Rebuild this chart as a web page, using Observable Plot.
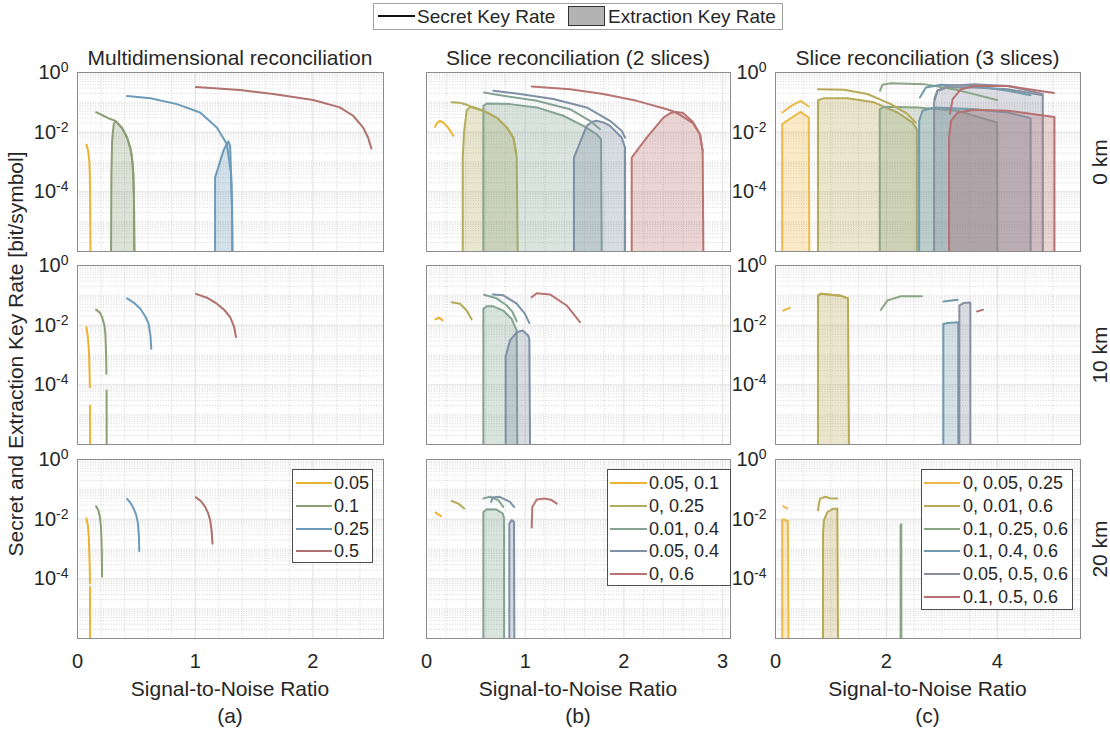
<!DOCTYPE html>
<html><head><meta charset="utf-8">
<script src="https://cdn.jsdelivr.net/npm/d3@7"></script>
<script src="https://cdn.jsdelivr.net/npm/@observablehq/plot@0.6"></script>
<style>
body{margin:0;background:#fff;font-family:"Liberation Sans",Arial,Helvetica,sans-serif;color:#262626}
#root{position:relative;width:1110px;height:731px;overflow:hidden;background:#fff}
.abs{position:absolute;white-space:nowrap;line-height:1}
</style></head><body><div id="root"></div><script>
// ---------------- DATA (points are [SNR, log10(rate)]; null = gap) ----------------
const seriesA = ["0.05", "0.1", "0.25", "0.5"];
const seriesB = ["0.05, 0.1", "0, 0.25", "0.01, 0.4", "0.05, 0.4", "0, 0.6"];
const seriesC = ["0, 0.05, 0.25", "0, 0.01, 0.6", "0.1, 0.25, 0.6", "0.1, 0.4, 0.6", "0.05, 0.5, 0.6", "0.1, 0.5, 0.6"];
const distances = ["0 km", "10 km", "20 km"];
const xTicksA = [0, 1, 2];
const xTicksB = [0, 1, 2, 3];
const xTicksC = [0, 2, 4];
const yTicks = [1, 1e-2, 1e-4];

// Multidimensional reconciliation
const skA0 = [
  [[0.076,-2.42],[0.09,-2.62],[0.1,-2.95],[0.104,-3.3],[0.107,-4.0],[0.11,-6]],
  [[0.158,-1.33],[0.22,-1.45],[0.28,-1.56],[0.322,-1.62],[0.379,-1.86],[0.421,-2.18],[0.45,-2.55],[0.463,-2.85],[0.474,-3.4],[0.48,-4.2],[0.483,-6]],
  [[0.421,-0.79],[0.619,-0.86],[0.845,-1.06],[1.042,-1.34],[1.184,-1.84],[1.269,-2.40],[1.305,-3.41],[1.313,-4.5],[1.316,-6]],
  [[1.006,-0.49],[1.381,-0.59],[1.664,-0.72],[2.003,-0.92],[2.229,-1.17],[2.342,-1.45],[2.426,-1.84],[2.469,-2.18],[2.497,-2.55]]
];
const ekA0 = [
  null,
  [[0.285,-6],[0.288,-3.41],[0.294,-2.29],[0.308,-1.73],[0.322,-1.62],[0.379,-1.86],[0.421,-2.18],[0.45,-2.55],[0.463,-2.85],[0.474,-3.4],[0.48,-4.2],[0.483,-6]],
  [[1.169,-6],[1.169,-3.52],[1.24,-2.62],[1.269,-2.38],[1.282,-2.31],[1.297,-2.46],[1.305,-3.41],[1.313,-4.5],[1.316,-6]],
  null
];
const skA10 = [
  [[0.076,-2.07],[0.088,-2.4],[0.097,-2.85],[0.102,-3.5],[0.105,-4.08],[0.105,null],[0.106,-4.69],[0.107,-6]],
  [[0.158,-1.48],[0.19,-1.58],[0.209,-1.73],[0.228,-2.0],[0.237,-2.29],[0.243,-3.0],[0.246,-3.63],[0.246,null],[0.247,-4.19],[0.248,-6]],
  [[0.421,-1.10],[0.48,-1.25],[0.534,-1.45],[0.575,-1.7],[0.604,-1.95],[0.62,-2.35],[0.627,-2.79]],
  [[1.006,-0.95],[1.1,-1.08],[1.184,-1.28],[1.25,-1.5],[1.297,-1.73],[1.33,-2.05],[1.347,-2.40]]
];
const ekA10 = [null, null, null, null];
const skA20 = [
  [[0.076,-1.98],[0.088,-2.2],[0.096,-2.59],[0.1,-3.1],[0.104,-3.6],[0.106,-4.16],[0.106,null],[0.106,-4.27],[0.107,-6]],
  [[0.158,-1.57],[0.177,-1.7],[0.19,-1.92],[0.198,-2.2],[0.203,-2.59],[0.207,-3.2],[0.209,-3.93]],
  [[0.421,-1.32],[0.45,-1.45],[0.477,-1.64],[0.5,-1.88],[0.514,-2.15],[0.522,-2.6],[0.525,-3.07]],
  [[1.006,-1.27],[1.05,-1.4],[1.085,-1.59],[1.11,-1.8],[1.127,-2.03],[1.14,-2.4],[1.147,-2.82]]
];
const ekA20 = [null, null, null, null];

// Slice reconciliation (2 slices)
const skB0 = [
  [[0.086,-1.82],[0.11,-1.68],[0.137,-1.62],[0.17,-1.68],[0.204,-1.79],[0.24,-1.95],[0.272,-2.12]],
  [[0.255,-1.0],[0.33,-1.01],[0.40,-1.07],[0.46,-1.15],[0.576,-1.28],[0.711,-1.51],[0.813,-1.84],[0.88,-2.18],[0.91,-2.7]],
  [[0.583,-0.67],[0.778,-0.78],[1.117,-0.95],[1.454,-1.23],[1.657,-1.62],[1.758,-1.90]],
  [[0.677,-0.61],[0.947,-0.72],[1.285,-0.89],[1.623,-1.17],[1.859,-1.62],[1.977,-1.95],[2.011,-2.18]],
  [[1.066,-0.47],[1.454,-0.56],[1.791,-0.72],[2.13,-0.95],[2.40,-1.2],[2.50,-1.3],[2.568,-1.42],[2.70,-1.70],[2.77,-2.07],[2.798,-2.62]]
];
const ekB0 = [
  null,
  [[0.367,-6],[0.367,-2.85],[0.38,-2.0],[0.407,-1.28],[0.44,-1.15],[0.576,-1.28],[0.711,-1.51],[0.813,-1.84],[0.88,-2.18],[0.914,-2.85],[0.924,-6]],
  [[0.576,-6],[0.576,-1.12],[0.61,-1.04],[0.846,-1.06],[1.117,-1.17],[1.386,-1.45],[1.589,-1.79],[1.724,-2.07],[1.768,-2.23],[1.775,-6]],
  [[1.494,-6],[1.494,-2.85],[1.623,-1.79],[1.68,-1.65],[1.724,-1.62],[1.80,-1.68],[1.859,-1.79],[1.977,-2.18],[2.011,-2.51],[2.011,-6]],
  [[2.079,-6],[2.079,-2.85],[2.231,-2.18],[2.40,-1.51],[2.47,-1.36],[2.53,-1.32],[2.6,-1.36],[2.70,-1.66],[2.77,-2.07],[2.798,-2.62],[2.805,-6]]
];
const skB10 = [
  [[0.089,-1.80],[0.13,-1.75],[0.164,-1.84]],
  [[0.255,-1.23],[0.339,-1.28],[0.407,-1.51],[0.458,-1.81]],
  [[0.583,-0.98],[0.71,-1.10],[0.813,-1.34],[0.87,-1.55],[0.914,-1.87]],
  [[0.671,-0.97],[0.778,-1.0],[0.914,-1.28],[0.998,-1.62],[1.042,-1.93]],
  [[1.066,-1.06],[1.117,-0.93],[1.251,-0.97],[1.42,-1.34],[1.555,-1.90]]
];
const ekB10 = [
  null, null,
  [[0.576,-6],[0.576,-1.45],[0.61,-1.37],[0.677,-1.37],[0.778,-1.51],[0.863,-1.79],[0.914,-2.18],[0.92,-6]],
  [[0.802,-6],[0.802,-3.05],[0.846,-2.51],[0.914,-2.24],[0.975,-2.18],[1.031,-2.35],[1.042,-2.5],[1.049,-6]],
  null
];
const skB20 = [
  [[0.093,-1.78],[0.147,-1.90]],
  [[0.255,-1.39],[0.322,-1.48],[0.383,-1.64]],
  [[0.576,-1.31],[0.644,-1.25],[0.728,-1.36],[0.778,-1.59]],
  [[0.655,-1.42],[0.671,-1.27],[0.74,-1.25],[0.846,-1.42],[0.887,-1.59]],
  [[1.066,-2.28],[1.072,-1.59],[1.117,-1.34],[1.20,-1.31],[1.268,-1.36],[1.32,-1.48]]
];
const ekB20 = [
  null, null,
  [[0.576,-6],[0.576,-1.76],[0.61,-1.67],[0.71,-1.68],[0.772,-1.81],[0.786,-1.98],[0.786,-6]],
  [[0.839,-6],[0.839,-2.15],[0.863,-2.03],[0.887,-2.09],[0.89,-6]],
  null
];

// Slice reconciliation (3 slices)
const skC0 = [
  [[0.121,-1.34],[0.30,-1.1],[0.452,-0.95],[0.60,-1.14]],
  [[0.766,-0.56],[1.235,-0.58],[1.658,-0.72],[2.08,-1.06],[2.38,-1.39],[2.53,-1.68]],
  [[1.886,-0.61],[1.929,-0.41],[2.08,-0.36],[2.68,-0.39],[3.286,-0.59],[3.996,-0.92]],
  [[2.604,-0.84],[2.712,-0.50],[2.98,-0.41],[3.586,-0.45],[4.19,-0.61],[4.60,-0.76]],
  [[2.863,-0.89],[2.92,-0.61],[3.105,-0.45],[3.586,-0.39],[4.19,-0.45],[4.82,-0.72]],
  [[3.146,-1.39],[3.195,-0.89],[3.345,-0.56],[3.586,-0.45],[4.19,-0.45],[5.02,-0.69]]
];
const ekC0 = [
  [[0.121,-6],[0.121,-1.73],[0.30,-1.5],[0.452,-1.32],[0.60,-1.51],[0.61,-6]],
  [[0.766,-6],[0.766,-0.93],[0.874,-0.86],[1.297,-0.86],[1.778,-1.0],[2.20,-1.34],[2.47,-1.68],[2.55,-1.90],[2.55,-6]],
  [[1.88,-6],[1.88,-1.23],[1.96,-1.15],[2.56,-1.17],[3.286,-1.28],[3.996,-1.68],[4.0,-6]],
  [[2.59,-6],[2.59,-1.62],[2.65,-1.28],[2.86,-1.17],[3.586,-1.23],[4.19,-1.34],[4.60,-1.53],[4.6,-6]],
  [[2.86,-6],[2.86,-1.0],[2.92,-0.61],[3.105,-0.50],[3.586,-0.50],[4.19,-0.56],[4.82,-0.76],[4.82,-6]],
  [[3.13,-6],[3.13,-2.18],[3.165,-1.62],[3.286,-1.34],[3.586,-1.25],[4.19,-1.28],[5.03,-1.49],[5.03,-6]]
];
const skC10 = [
  [[0.139,-1.51],[0.259,-1.42]],
  [[0.766,-1.01],[0.814,-0.95],[1.175,-1.01],[1.307,-1.10]],
  [[1.899,-1.49],[2.02,-1.17],[2.26,-1.03],[2.64,-1.03]],
  [[3.032,-1.21],[3.286,-1.15]],
  null,
  [[3.635,-1.54],[3.743,-1.48]]
];
const ekC10 = [
  null,
  [[0.766,-6],[0.766,-1.01],[0.814,-0.95],[1.175,-1.01],[1.307,-1.10],[1.325,-6]],
  null,
  [[3.026,-6],[3.026,-1.96],[3.1,-1.93],[3.297,-1.90],[3.297,-6]],
  [[3.315,-6],[3.315,-1.34],[3.394,-1.26],[3.514,-1.24],[3.514,-6]],
  null
];
const skC20 = [
  [[0.139,-1.57],[0.211,-1.64]],
  [[0.766,-1.70],[0.801,-1.31],[0.904,-1.25],[0.99,-1.31],[1.115,-1.31]],
  null, null, null, null
];
const ekC20 = [
  [[0.121,-6],[0.121,-2.03],[0.15,-2.01],[0.223,-2.07],[0.235,-6]],
  [[0.856,-6],[0.856,-2.48],[0.874,-2.03],[0.934,-1.76],[1.025,-1.66],[1.115,-1.64],[1.127,-6]],
  [[2.255,-6],[2.255,-2.2],[2.268,-2.17],[2.27,-6]],
  null, null, null
];

// ---------------- STYLE / LAYOUT ----------------
const colorsA = ["#EDB232", "#8C9E74", "#6C9BBA", "#B0706D"];
const colorsB = ["#EDB232", "#B2AD5C", "#83A492", "#7D90A6", "#B97472"];
const colorsC = ["#EDB94A", "#B8AA56", "#8AA584", "#6F9BAD", "#878FA1", "#B6706F"];
const FONT = '"Liberation Sans", Arial, Helvetica, sans-serif';
const COLS = [
  {left: 77, w: 306, dom: [0, 2.6], ticks: xTicksA, minor: 0.2, yAxis: true},
  {left: 426, w: 304, dom: [0, 3.08], ticks: xTicksB, minor: 0.2, yAxis: false},
  {left: 775, w: 305, dom: [0, 5.5], ticks: xTicksC, minor: 0.5, yAxis: true}
];
const ROWS = [72, 265, 459];
const PH = 179;
const root = document.getElementById("root");
const svgns = "http://www.w3.org/2000/svg";

const toData = pts => pts.map(([s, e]) => ({snr: s, rate: e === null ? NaN : Math.pow(10, e)}));

const minorY = [];
for (let e = -6; e < 0; e++) for (let k = 2; k <= 9; k++) minorY.push(k * Math.pow(10, e));
minorY.push(1e-1, 1e-3, 1e-5);
const majorY = [1e-2, 1e-4];

function panel(ci, ri, colors, sk, ek) {
  const c = COLS[ci];
  const ML = 60, MR = 6, MT = 14, MB = 40;
  const step = c.ticks[1];
  const minorX = d3.range(c.minor, c.dom[1], c.minor).filter(v => Math.abs(v - Math.round(v / step) * step) > 1e-6);
  const majorX = c.ticks.filter(v => v > 0);
  const marks = [
    Plot.ruleY(minorY, {stroke: "#c6c6c6", strokeWidth: 0.7, strokeDasharray: "1,1.6"}),
    Plot.ruleX(minorX, {stroke: "#c6c6c6", strokeWidth: 0.7, strokeDasharray: "1,1.6"}),
    Plot.ruleY(majorY, {stroke: "#e0e0e0", strokeWidth: 1}),
    Plot.ruleX(majorX, {stroke: "#e0e0e0", strokeWidth: 1})
  ];
  ek.forEach((pts, i) => {
    if (pts) marks.push(Plot.line(toData(pts), {x: "snr", y: "rate", stroke: colors[i], strokeWidth: 2, fill: colors[i], fillOpacity: 0.3, clip: true}));
  });
  sk.forEach((pts, i) => {
    if (pts) marks.push(Plot.line(toData(pts), {x: "snr", y: "rate", stroke: colors[i], strokeWidth: 2, clip: true}));
  });
  marks.push(Plot.frame({stroke: "#8c8c8c", strokeWidth: 1}));
  if (ri === 2) marks.push(Plot.axisX(c.ticks, {tickSize: 0, tickPadding: 15, fontSize: 20, label: null, tickFormat: d => String(d)}));
  if (c.yAxis) marks.push(Plot.axisY(yTicks, {tickSize: 0, tickPadding: 9, fontSize: 20, label: null,
    tickFormat: d => "10^" + Math.round(Math.log10(d))}));
  const svg = Plot.plot({
    width: ML + c.w + MR, height: MT + PH + MB,
    marginLeft: ML, marginRight: MR, marginTop: MT, marginBottom: MB,
    x: {domain: c.dom, axis: null},
    y: {type: "log", domain: [1e-6, 1], axis: null},
    style: {fontFamily: FONT, color: "#262626", background: "transparent", overflow: "visible"},
    marks
  });
  svg.querySelectorAll("text").forEach(t => {
    const m = t.textContent.match(/^10\^(.*)$/);
    if (m) {
      t.textContent = "10";
      const ts = document.createElementNS(svgns, "tspan");
      ts.setAttribute("dy", "-0.5em");
      ts.setAttribute("font-size", "0.7em");
      ts.textContent = m[1].replace("\u2212", "-");
      t.appendChild(ts);
    }
  });
  svg.style.position = "absolute";
  svg.style.left = (c.left - ML) + "px";
  svg.style.top = (ROWS[ri] - MT) + "px";
  root.appendChild(svg);
}

panel(0, 0, colorsA, skA0, ekA0);
panel(0, 1, colorsA, skA10, ekA10);
panel(0, 2, colorsA, skA20, ekA20);
panel(1, 0, colorsB, skB0, ekB0);
panel(1, 1, colorsB, skB10, ekB10);
panel(1, 2, colorsB, skB20, ekB20);
panel(2, 0, colorsC, skC0, ekC0);
panel(2, 1, colorsC, skC10, ekC10);
panel(2, 2, colorsC, skC20, ekC20);

// ---------------- TEXT ----------------
function label(text, cx, cy, size, rot = 0) {
  const d = document.createElement("div");
  d.className = "abs";
  d.textContent = text;
  d.style.left = cx + "px";
  d.style.top = cy + "px";
  d.style.fontSize = size + "px";
  d.style.transform = `translate(-50%,-50%) rotate(${rot}deg)`;
  root.appendChild(d);
}
const titles = ["Multidimensional reconciliation", "Slice reconciliation (2 slices)", "Slice reconciliation (3 slices)"];
const panelTags = ["(a)", "(b)", "(c)"];
COLS.forEach((c, i) => {
  const cx = c.left + c.w / 2;
  label(titles[i], cx, 57, 21);
  label("Signal-to-Noise Ratio", cx, 688, 21);
  label(panelTags[i], cx, 715, 21);
});
label("Secret and Extraction Key Rate [bit/symbol]", 15, 354, 21, -90);
distances.forEach((d, i) => label(d, 1099, ROWS[i] + PH / 2, 21, -90));

// panel legends
function legend(left, top, w, h, names, colors, lineX0, lineX1, textX) {
  const box = document.createElement("div");
  box.className = "abs";
  Object.assign(box.style, {left: left + "px", top: top + "px", width: w + "px", height: h + "px",
    border: "1px solid #4d4d4d", background: "#fff", boxSizing: "border-box"});
  root.appendChild(box);
  names.forEach((n, i) => {
    const cy = top + 14 + 22.8 * i;
    const ln = document.createElement("div");
    ln.className = "abs";
    Object.assign(ln.style, {left: lineX0 + "px", top: (cy - 1) + "px", width: (lineX1 - lineX0) + "px", height: "2px", background: colors[i]});
    root.appendChild(ln);
    const t = document.createElement("div");
    t.className = "abs";
    t.textContent = n;
    Object.assign(t.style, {left: textX + "px", top: cy + "px", fontSize: "18px", transform: "translateY(-50%)"});
    root.appendChild(t);
  });
}
legend(292, 469, 81, 94, seriesA, colorsA, 296, 332, 334);
legend(607, 469, 124, 117, seriesB, colorsB, 610, 647, 649);
legend(921, 469, 152, 141, seriesC, colorsC, 924, 960, 963);

// top legend
(function () {
  const box = document.createElement("div");
  box.className = "abs";
  Object.assign(box.style, {left: "373px", top: "3px", width: "410px", height: "27px", border: "1px solid #a0a0a0", background: "#fff", boxSizing: "border-box"});
  root.appendChild(box);
  const ln = document.createElement("div");
  ln.className = "abs";
  Object.assign(ln.style, {left: "378px", top: "15px", width: "37px", height: "2px", background: "#111"});
  root.appendChild(ln);
  const t1 = document.createElement("div");
  t1.className = "abs"; t1.textContent = "Secret Key Rate";
  Object.assign(t1.style, {left: "417px", top: "16px", fontSize: "19px", transform: "translateY(-50%)"});
  root.appendChild(t1);
  const sw = document.createElement("div");
  sw.className = "abs";
  Object.assign(sw.style, {left: "568px", top: "6px", width: "37px", height: "20px", background: "#b3b3b3", border: "1.5px solid #333", boxSizing: "border-box"});
  root.appendChild(sw);
  const t2 = document.createElement("div");
  t2.className = "abs"; t2.textContent = "Extraction Key Rate";
  Object.assign(t2.style, {left: "608px", top: "16px", fontSize: "19px", transform: "translateY(-50%)"});
  root.appendChild(t2);
})();
</script></body></html>
